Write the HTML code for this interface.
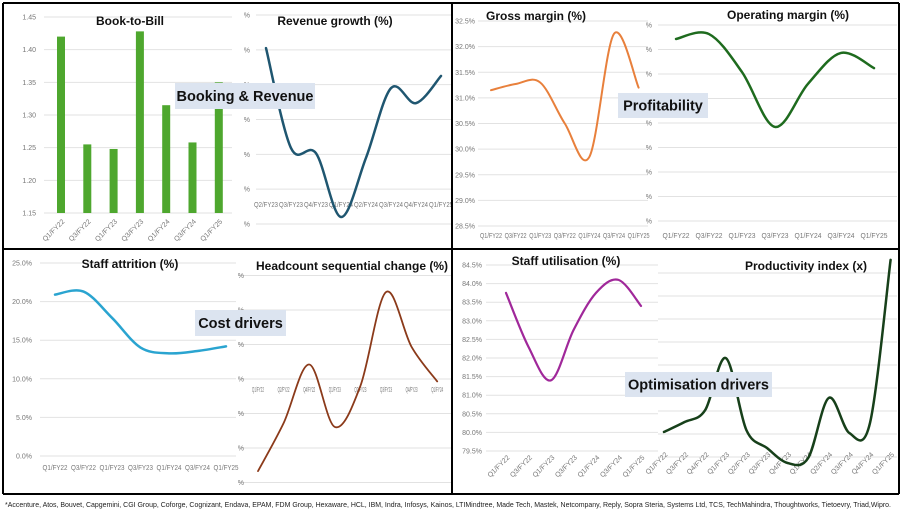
<!DOCTYPE html>
<html><head><meta charset="utf-8">
<style>
html,body{margin:0;padding:0;background:#fff;}
svg{display:block;font-family:"Liberation Sans",sans-serif;}
.t{font-weight:bold;font-size:12px;fill:#111;}
.tk{font-size:7px;fill:#777;}
.g{stroke:#e2e2e2;stroke-width:1;}
</style></head>
<body>
<svg id="s" width="902" height="511" viewBox="0 0 902 511">
<rect x="0" y="0" width="902" height="511" fill="#fff"/>
</svg>
<script>
// ---------- DATA ----------
const btbCats = ["Q1/FY22","Q3/FY22","Q1/FY23","Q3/FY23","Q1/FY24","Q3/FY24","Q1/FY25"];
const btbVals = [1.42,1.255,1.248,1.428,1.315,1.258,1.35];
const btbTicks = [1.15,1.20,1.25,1.30,1.35,1.40,1.45];

const revCats = ["Q2/FY23","Q3/FY23","Q4/FY23","Q1/FY24","Q2/FY24","Q3/FY24","Q4/FY24","Q1/FY25"];
const revVals = [6.05,3.18,3.03,1.2,2.9,4.9,4.47,5.25];
const revTicks = [1,2,3,4,5,6,7];

const gmCats = ["Q1/FY22","Q3/FY22","Q1/FY23","Q3/FY22","Q1/FY24","Q3/FY24","Q1/FY25"];
const gmVals = [31.15,31.27,31.3,30.5,29.85,32.25,31.2];
const gmTicks = [28.5,29.0,29.5,30.0,30.5,31.0,31.5,32.0,32.5];

const omCats = ["Q1/FY22","Q3/FY22","Q1/FY23","Q3/FY23","Q1/FY24","Q3/FY24","Q1/FY25"];
const omVals = [8.43,8.63,7.08,4.84,6.6,7.86,7.24];
const omTicks = [1,2,3,4,5,6,7,8,9];

const saCats = ["Q1/FY22","Q3/FY22","Q1/FY23","Q3/FY23","Q1/FY24","Q3/FY24","Q1/FY25"];
const saVals = [20.9,21.3,17.9,14.05,13.3,13.6,14.2];
const saTicks = [0,5,10,15,20,25];

const hcCats = ["Q1/FY22","Q2/FY22","Q4/FY22","Q1/FY23","Q2/FY23","Q3/FY23","Q4/FY23","Q1/FY24"];
const hcVals = [-2.67,-1.28,0.42,-1.39,-0.2,2.52,0.93,-0.07];
const hcTicks = [-3,-2,-1,0,1,2,3];

const suCats = ["Q1/FY22","Q3/FY22","Q1/FY23","Q3/FY23","Q1/FY24","Q3/FY24","Q1/FY25"];
const suVals = [83.75,82.3,81.4,82.75,83.75,84.1,83.4];
const suTicks = [79.5,80.0,80.5,81.0,81.5,82.0,82.5,83.0,83.5,84.0,84.5];

const piCats = ["Q1/FY22","Q3/FY22","Q4/FY22","Q1/FY23","Q2/FY23","Q3/FY23","Q4/FY23","Q1/FY24","Q2/FY24","Q3/FY24","Q4/FY24","Q1/FY25"];
const piVals = [2.09,2.52,3.04,5.3,2.17,1.39,0.74,0.96,3.57,2.04,2.48,9.57];
const piTicks = [1,2,3,4,5,6,7,8,9];

// ---------- HELPERS ----------
const S = document.getElementById('s');
const NS = 'http://www.w3.org/2000/svg';
function mk(tag, attrs, parent){
  const e = document.createElementNS(NS, tag);
  for (const k in attrs) e.setAttribute(k, attrs[k]);
  (parent||S).appendChild(e);
  return e;
}
function lin(d0,d1,r0,r1){ return v => r0 + (v-d0)/(d1-d0)*(r1-r0); }
function smoothPath(pts){
  let d = `M${pts[0][0]},${pts[0][1]}`;
  for (let i=0;i<pts.length-1;i++){
    const p0=pts[Math.max(0,i-1)], p1=pts[i], p2=pts[i+1], p3=pts[Math.min(pts.length-1,i+2)];
    const c1x=p1[0]+(p2[0]-p0[0])/6, c1y=p1[1]+(p2[1]-p0[1])/6;
    const c2x=p2[0]-(p3[0]-p1[0])/6, c2y=p2[1]-(p3[1]-p1[1])/6;
    d += ` C${c1x},${c1y} ${c2x},${c2y} ${p2[0]},${p2[1]}`;
  }
  return d;
}
function grid(ticks, y, x0, x1, lblX, fmt, name){
  ticks.forEach(t=>{
    const l = mk('line',{x1:x0,x2:x1,y1:y(t),y2:y(t),class:'g'});
    
    
    if (fmt){
      const tx = mk('text',{x:lblX,y:y(t)+2.5,class:'tk','text-anchor':'end'});
      tx.textContent = fmt(t);
      
      
    }
  });
}
function xcats(cats, x, y, rot, name, size, len){
  cats.forEach((c,i)=>{
    const a = {x:x(i),y:y,class:'tk','text-anchor':rot?'end':'middle','font-size':size||7};
    if (len){ a.textLength = len; a.lengthAdjust = 'spacingAndGlyphs'; }
    const tx = mk('text',a);
    if (rot) tx.setAttribute('transform',`rotate(-45 ${x(i)} ${y})`);
    tx.textContent = c;
    
    
  });
}
function line(vals, x, y, color, w, name){
  const pts = vals.map((v,i)=>[x(i),y(v)]);
  const p = mk('path',{d:smoothPath(pts),fill:'none',stroke:color,'stroke-width':w,'stroke-linecap':'round'});
  
  
}
function title(txt, x, y, name){
  const t = mk('text',{x:x,y:y,class:'t','text-anchor':'middle'});
  t.textContent = txt;
  
  
}
function box(txt, x, y, w, h, name){
  const g = mk('g',{});
  
  
  mk('rect',{x:x,y:y,width:w,height:h,fill:'#dce4f0'},g);
  const t = mk('text',{x:x+w/2,y:y+h/2+5,'text-anchor':'middle','font-size':14.5,'font-weight':'bold',fill:'#111'},g);
  t.textContent = txt;
}

// ---------- 1 Book-to-Bill ----------
{
  const y = lin(1.15,1.45,213,17);
  const x = i => 61 + i*26.3;
  grid(btbTicks, y, 44, 232, 36, v=>v.toFixed(2), 'book-to-bill');
  btbVals.forEach((v,i)=>{
    const r = mk('rect',{x:x(i)-4,y:y(v),width:8,height:y(1.15)-y(v),fill:'#4ea72e'});
    
    
  });
  xcats(btbCats, i=>x(i)+4, 222, true, 'book-to-bill');
  title('Book-to-Bill', 130, 25, 'book-to-bill');
}
// ---------- 2 Revenue growth ----------
{
  const y = lin(1,7,224,15);
  const x = i => 266 + i*25;
  grid(revTicks, y, 256, 452, 250, v=>'%', 'revenue-growth');
  xcats(revCats, x, 207, false, 'revenue-growth', 7.5, 24);
  line(revVals, x, y, '#1f5670', 2.5, 'revenue-growth');
  title('Revenue growth (%)', 335, 25, 'revenue-growth');
}
box('Booking & Revenue', 175, 83, 140, 26, 'booking-revenue-label');

// ---------- 3 Gross margin ----------
{
  const y = lin(28.5,32.5,226,21);
  const x = i => 491 + i*24.6;
  grid(gmTicks, y, 478, 648, 475, v=>v.toFixed(1)+'%', 'gross-margin');
  xcats(gmCats, x, 238, false, 'gross-margin', 6.5, 22);
  line(gmVals, x, y, '#e8803c', 2, 'gross-margin');
  title('Gross margin (%)', 536, 20, 'gross-margin');
}
// ---------- 4 Operating margin ----------
{
  const y = lin(1,9,221,25);
  const x = i => 676 + i*33;
  grid(omTicks, y, 658, 897, 652, v=>'%', 'operating-margin');
  xcats(omCats, x, 238, false, 'operating-margin', 7, 27);
  line(omVals, x, y, '#1e6b1e', 2.5, 'operating-margin');
  title('Operating margin (%)', 788, 19, 'operating-margin');
}
box('Profitability', 618, 93, 90, 25, 'profitability-label');

// ---------- 5 Staff attrition ----------
{
  const y = lin(0,25,456,263);
  const x = i => 55 + i*28.5;
  grid(saTicks, y, 40, 236, 32, v=>v.toFixed(1)+'%', 'staff-attrition');
  xcats(saCats, x, 470, false, 'staff-attrition', 7, 25);
  line(saVals, x, y, '#2aa4d0', 2.5, 'staff-attrition');
  title('Staff attrition (%)', 130, 268, 'staff-attrition');
}
// ---------- 6 Headcount ----------
{
  const y = lin(0,1,379,344.5);
  const x = i => 258 + i*25.6;
  grid(hcTicks, y, 240, 452, 244, v=>'%', 'headcount-change');
  xcats(hcCats, x, 392, false, 'headcount-change', 4.5, 12);
  line(hcVals, x, y, '#8b3a1a', 1.8, 'headcount-change');
  title('Headcount sequential change (%)', 352, 270, 'headcount-change');
}
box('Cost drivers', 195, 310, 91, 26, 'cost-drivers-label');

// ---------- 7 Staff utilisation ----------
{
  const y = lin(79.5,84.5,451,265);
  const x = i => 506 + i*22.5;
  grid(suTicks, y, 486, 658, 482, v=>v.toFixed(1)+'%', 'staff-utilisation');
  xcats(suCats, i=>x(i)+4, 458, true, 'staff-utilisation', 8);
  line(suVals, x, y, '#a0289a', 2.2, 'staff-utilisation');
  title('Staff utilisation (%)', 566, 265, 'staff-utilisation');
}
// ---------- 8 Productivity ----------
{
  const y = lin(0,1,480,457);
  const x = i => 664 + i*20.6;
  grid(piTicks, y, 658, 897, 0, null, 'productivity-index');
  xcats(piCats, i=>x(i)+4, 455, true, 'productivity-index', 8);
  line(piVals, x, y, '#17401a', 2.5, 'productivity-index');
  title('Productivity index (x)', 806, 270, 'productivity-index');
}
box('Optimisation drivers', 625, 372, 147, 25, 'optimisation-drivers-label');

// ---------- borders ----------
[[3,3,899,3],[3,3,3,494],[899,3,899,494],[3,494,899,494],[452,3,452,494],[3,249,899,249]].forEach(c=>{
  const l = mk('line',{x1:c[0],y1:c[1],x2:c[2],y2:c[3],stroke:'#000','stroke-width':2});
  
  
});
// footnote
{
  const t = mk('text',{x:5,y:507,'font-size':7.2,fill:'#222',textLength:886,lengthAdjust:'spacingAndGlyphs'});
  t.textContent = '*Accenture, Atos, Bouvet, Capgemini, CGI Group, Coforge, Cognizant, Endava, EPAM, FDM Group, Hexaware, HCL, IBM, Indra, Infosys, Kainos, LTIMindtree, Made Tech, Mastek, Netcompany, Reply, Sopra Steria, Systems Ltd, TCS, TechMahindra, Thoughtworks, Tietoevry, Triad,Wipro.';
  
  
}
</script>
</body></html>
